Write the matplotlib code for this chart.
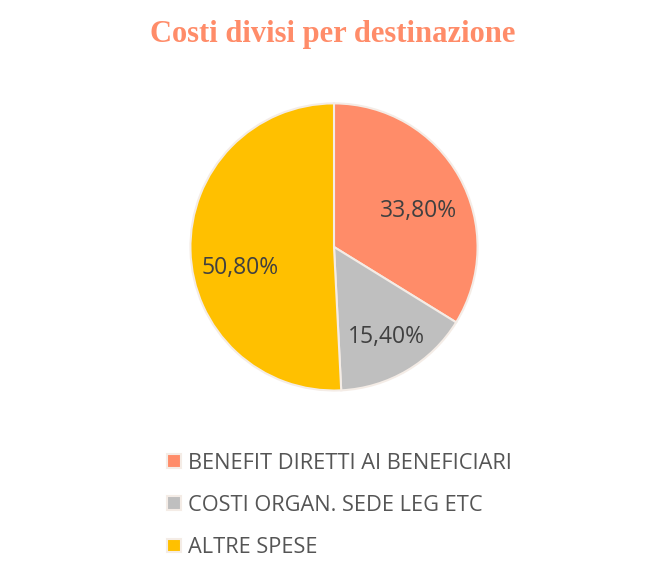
import matplotlib.pyplot as plt

# data
labels = ["BENEFIT DIRETTI AI BENEFICIARI", "COSTI ORGAN. SEDE LEG ETC", "ALTRE SPESE"]
values = [33.8, 15.4, 50.8]
colors = ["#FF8C69", "#BFBFBF", "#FFC000"]

# where excel put the percent labels ("best fit"), in pie radius units
label_pos = [(0.586, 0.252), (0.366, -0.625), (-0.655, -0.145)]

fig = plt.figure(figsize=(6.66, 5.77), dpi=100)

fig.text(0.5, 0.94, "Costi divisi per destinazione", ha="center", va="center",
         fontsize=22, fontweight="bold", color="#FF8C69", family="Liberation Serif")

ax = fig.add_axes([0.5015 - 0.2177, 0.572 - 0.2513, 0.4354, 0.5026])
wedges, texts, autotexts = ax.pie(
    values, colors=colors, startangle=90, counterclock=False,
    autopct=lambda p: f"{p:.2f}%".replace(".", ","), pctdistance=0.67,
    wedgeprops=dict(edgecolor="#F4ECE6", linewidth=1.5),
    textprops=dict(fontsize=16.5, color="#404040", family="Open Sans"))
for t, pos in zip(autotexts, label_pos):
    t.set_position(pos)
ax.set_xlim(-1.01, 1.01)
ax.set_ylim(-1.01, 1.01)
ax.set_aspect("equal")

leg = fig.legend(wedges, labels, loc="upper left", bbox_to_anchor=(0.222, 0.249),
                 frameon=False,
                 prop=dict(family="Open Sans", size=15.7),
                 handlelength=0.6, handleheight=0.6, handletextpad=0.35,
                 labelspacing=0.97)
for t in leg.get_texts():
    t.set_color("#555555")

fig.savefig("out.png", dpi=100, facecolor="white")
